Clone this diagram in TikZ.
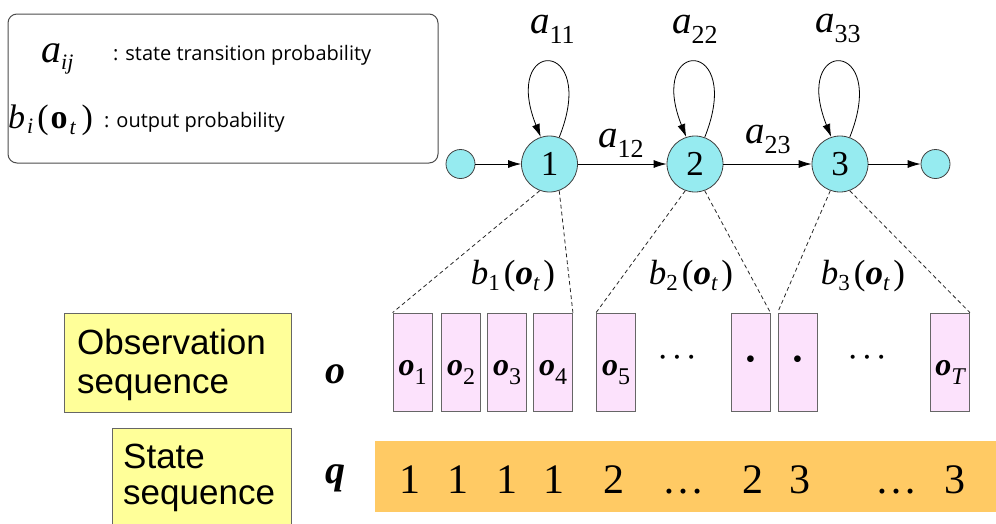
\documentclass[tikz,border=0pt]{standalone}
\usepackage{fontspec}
\setmainfont{Liberation Sans}
\newfontfamily\tmfont{Liberation Serif}
\newfontfamily\lgfont{Open Sans}
\usetikzlibrary{arrows.meta}
\newcommand\fsz[1]{\fontsize{#1}{#1}\selectfont}
\newcommand\lowsub[3]{\raisebox{-#1pt}{\fsz{#2}#3}}
\newcommand\obsl[1]{\tmfont\fsz{32}\textbf{\textit{o}}\lowsub{9}{24}{#1}}
\newcommand\bl[1]{\tmfont\fsz{35}\textit{b}\lowsub{6}{23}{#1}\kern4pt(\textbf{\textit{o}}\lowsub{6}{23}{\itshape t}\kern4pt)}
\newcommand\al[1]{\tmfont\fsz{39}\textit{a}\lowsub{10}{26}{#1}}
\definecolor{cyanfill}{RGB}{150,235,240}
\definecolor{pinkfill}{RGB}{252,226,252}
\definecolor{yellowfill}{RGB}{255,255,153}
\definecolor{orangefill}{RGB}{255,202,100}
\tikzset{
  state/.style={circle, draw=black!75, fill=cyanfill, minimum size=56pt, inner sep=0pt, line width=0.8pt, font=\tmfont\fsz{35}},
  endstate/.style={circle, draw=black!75, fill=cyanfill, minimum size=29pt, inner sep=0pt, line width=0.8pt},
  arr/.style={-{Latex[length=13pt,width=8pt]}, line width=0.8pt},
  obsbox/.style={draw=black!60, fill=pinkfill, minimum width=39pt, minimum height=98pt, inner sep=0pt, line width=0.8pt},
  txt/.style={inner sep=0pt, anchor=base west},
  ctxt/.style={inner sep=0pt, anchor=base},
  dline/.style={dash pattern=on 4pt off 3pt, line width=0.8pt, draw=black!85},
  legendbox/.style={draw=black!70, rounded corners=9pt, minimum width=430pt, minimum height=149pt, line width=1pt},
  yellowbox/.style={draw=black!60, fill=yellowfill, line width=0.8pt, anchor=north west, inner sep=0pt}
}
\begin{document}
\begin{tikzpicture}[x=1pt,y=-1pt]
\useasboundingbox (0,0) rectangle (996,523);
\clip (0,0) rectangle (996,523);
% legend
\node[legendbox] (legend) at (223,88.5) {};
\node[txt] (legA) at (41,62) {\tmfont\fsz{40}\itshape a\lowsub{7}{22}{ij}};
\node[txt] (legAt) at (113,60) {\lgfont\fsz{20}: state transition probability};
\node[txt] (legB) at (8,128) {\tmfont\fsz{34}\itshape b\kern2pt\lowsub{5}{22}{i}\kern4pt\upshape(\kern2pt\textbf{o}\kern2pt\lowsub{6}{22}{\itshape t}\kern6pt)};
\node[txt] (legBt) at (104,127) {\lgfont\fsz{20}: output probability};
% states
\node[endstate] (s0) at (460.5,164) {};
\node[state] (s1) at (549.5,164) {1};
\node[state] (s2) at (695,164) {2};
\node[state] (s3) at (840,164) {3};
\node[endstate] (s4) at (935.5,164) {};
\draw[arr] (s0) -- (s1);
\draw[arr] (s1) -- (s2);
\draw[arr] (s2) -- (s3);
\draw[arr] (s3) -- (s4);
\foreach \s in {s1,s2,s3}{
  \draw[arr] (\s.70) .. controls +(40,-100) and +(-40,-100) .. (\s.108);
}
\node[txt] (a11) at (530,33) {\al{11}};
\node[txt] (a22) at (672,33) {\al{22}};
\node[txt] (a33) at (815,32) {\al{33}};
\node[txt] (a12) at (598,147) {\al{12}};
\node[txt] (a23) at (745,143) {\al{23}};
% observation boxes
\node[obsbox] (o1) at (412.5,362) {};
\node[obsbox] (o2) at (461,362) {};
\node[obsbox] (o3) at (507,362) {};
\node[obsbox] (o4) at (553,362) {};
\node[obsbox] (o5) at (616,362) {};
\node[obsbox] (o6) at (750.5,362) {};
\node[obsbox] (o7) at (797.5,362) {};
\node[obsbox] (o8) at (950,362) {};
\node[ctxt] (lo1) at ([yshift=-13pt]o1.center) {\obsl{1}};
\node[ctxt] (lo2) at ([yshift=-13pt]o2.center) {\obsl{2}};
\node[ctxt] (lo3) at ([yshift=-13pt]o3.center) {\obsl{3}};
\node[ctxt] (lo4) at ([yshift=-13pt]o4.center) {\obsl{4}};
\node[ctxt] (lo5) at ([yshift=-13pt]o5.center) {\obsl{5}};
\node[ctxt] (lo8) at ([yshift=-13pt]o8.center) {\obsl{\itshape T}};
\node[inner sep=0pt] (lo6) at (o6.center) {\tmfont\fsz{28}\textbullet};
\node[inner sep=0pt] (lo7) at (o7.center) {\tmfont\fsz{28}\textbullet};
\node[inner sep=0pt] (e1) at (677,362) {\tmfont\fsz{34}·\kern3pt·\kern3pt·};
\node[inner sep=0pt] (e2) at (867,362) {\tmfont\fsz{34}·\kern3pt·\kern3pt·};
% output prob labels
\node[ctxt] (b1) at (513,284) {\bl{1}};
\node[ctxt] (b2) at (691,284) {\bl{2}};
\node[ctxt] (b3) at (863,284) {\bl{3}};
\draw[dline] (s1.250) -- (o1.north west);
\draw[dline] (s1.290) -- (o4.north east);
\draw[dline] (s2.250) -- (o5.north west);
\draw[dline] (s2.290) -- (o6.north east);
\draw[dline] (s3.250) -- (o7.north west);
\draw[dline] (s3.290) -- (o8.north east);
% left labels
\node[yellowbox, minimum width=227pt, minimum height=99pt] (obsname) at (64,313) {};
\node[txt] (obsn1) at (77,354) {\fsz{35}Observation};
\node[txt] (obsn2) at (77,393) {\fsz{35}sequence};
\node[yellowbox, minimum width=179pt, minimum height=120pt] (stname) at (112,428) {};
\node[txt] (stn1) at (123,468) {\fsz{35}State};
\node[txt] (stn2) at (123,504) {\fsz{35}sequence};
\node[txt] (osym) at (325,383) {\tmfont\fsz{40}\textbf{\textit{o}}};
\node[txt] (qsym) at (325,483) {\tmfont\fsz{40}\textbf{\textit{q}}};
% state sequence bar
\node[fill=orangefill, anchor=north west, minimum width=630pt, minimum height=71pt, inner sep=0pt] (bar) at (375,441) {};
\foreach \x/\t/\n in {410/1/q1,458/1/q2,507/1/q3,554/1/q4,614/2/q5,683/…/q6,753/2/q7,800/3/q8,896/…/q9,955/3/q10}{
  \node[ctxt] (\n) at (\x,493) {\tmfont\fsz{42}\t};
}
\end{tikzpicture}
\end{document}
